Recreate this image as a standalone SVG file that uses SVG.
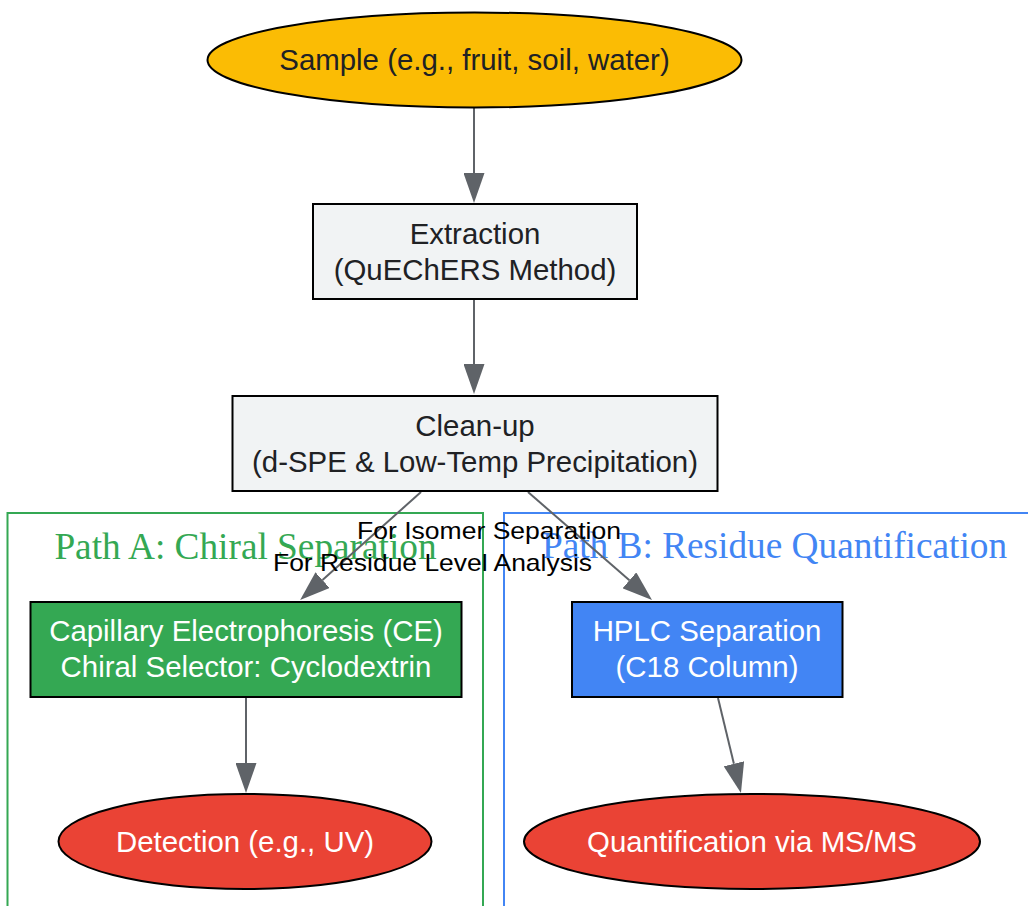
<svg xmlns="http://www.w3.org/2000/svg" width="1028" height="906" viewBox="0 0 1028 906">
<style>
.node-text{font-family:"Liberation Sans",Arial,sans-serif;font-size:29.4px;text-anchor:middle}
.dark{fill:#202124}
.light{fill:#ffffff}
.shape{stroke:#000000;stroke-width:2}
.edge{stroke:#5F6368;stroke-width:2;fill:none}
.elabel{font-family:"Liberation Sans",Arial,sans-serif;font-size:24px;text-anchor:middle;fill:#000000}
.ctitle{font-family:"Liberation Serif","Times New Roman",serif;font-size:37.3px;text-anchor:middle}
</style>
<defs>
<marker id="arrow" markerUnits="userSpaceOnUse" markerWidth="30" markerHeight="21" refX="0" refY="10.5" orient="auto" viewBox="0 0 30 21">
<path d="M0,0 L30,10.5 L0,21 z" fill="#5F6368"/>
</marker>
</defs>
<rect width="1028" height="906" fill="#ffffff"/>
<g id="cluster_A">
<rect x="7.5" y="513" width="475.5" height="420" fill="none" stroke="#34A853" stroke-width="2"/>
<text class="ctitle" x="245.5" y="559" fill="#34A853">Path A: Chiral Separation</text>
</g>
<g id="cluster_B">
<rect x="504" y="513" width="560" height="420" fill="none" stroke="#4285F4" stroke-width="2"/>
<text class="ctitle" x="774.5" y="558" fill="#4285F4">Path B: Residue Quantification</text>
</g>
<g id="edges">
<line class="edge" x1="474" y1="108" x2="474" y2="173" marker-end="url(#arrow)"/>
<line class="edge" x1="474" y1="300" x2="474" y2="364" marker-end="url(#arrow)"/>
<line class="edge" x1="421" y1="492" x2="322.5" y2="580.1" marker-end="url(#arrow)"/>
<line class="edge" x1="528" y1="492" x2="629.4" y2="580.3" marker-end="url(#arrow)"/>
<line class="edge" x1="246" y1="698" x2="246" y2="763" marker-end="url(#arrow)"/>
<line class="edge" x1="718" y1="698" x2="733.9" y2="763.8" marker-end="url(#arrow)"/>
<text class="elabel" x="489" y="539" textLength="264" lengthAdjust="spacingAndGlyphs">For Isomer Separation</text>
<text class="elabel" x="432.5" y="571" textLength="319" lengthAdjust="spacingAndGlyphs">For Residue Level Analysis</text>
</g>
<g id="sample">
<ellipse class="shape" cx="474.5" cy="60" rx="267" ry="47.5" fill="#FBBC04"/>
<text class="node-text dark" x="474.5" y="70">Sample (e.g., fruit, soil, water)</text>
</g>
<g id="extraction">
<rect class="shape" x="313" y="204" width="324" height="95" fill="#F1F3F4"/>
<text class="node-text dark" x="475" y="244">Extraction</text>
<text class="node-text dark" x="475" y="280">(QuEChERS Method)</text>
</g>
<g id="cleanup">
<rect class="shape" x="232.5" y="396" width="485" height="95" fill="#F1F3F4"/>
<text class="node-text dark" x="475" y="436">Clean-up</text>
<text class="node-text dark" x="475" y="472">(d-SPE &amp; Low-Temp Precipitation)</text>
</g>
<g id="ce">
<rect class="shape" x="30.5" y="602" width="431" height="95" fill="#34A853"/>
<text class="node-text light" x="246" y="641">Capillary Electrophoresis (CE)</text>
<text class="node-text light" x="246" y="677">Chiral Selector: Cyclodextrin</text>
</g>
<g id="hplc">
<rect class="shape" x="572" y="602" width="270.5" height="95" fill="#4285F4"/>
<text class="node-text light" x="707" y="641">HPLC Separation</text>
<text class="node-text light" x="707" y="677">(C18 Column)</text>
</g>
<g id="detection">
<ellipse class="shape" cx="245" cy="841.5" rx="186.5" ry="47.5" fill="#EA4335"/>
<text class="node-text light" x="245" y="852">Detection (e.g., UV)</text>
</g>
<g id="quantification">
<ellipse class="shape" cx="752" cy="841.5" rx="228" ry="47.5" fill="#EA4335"/>
<text class="node-text light" x="752" y="852">Quantification via MS/MS</text>
</g>
</svg>
